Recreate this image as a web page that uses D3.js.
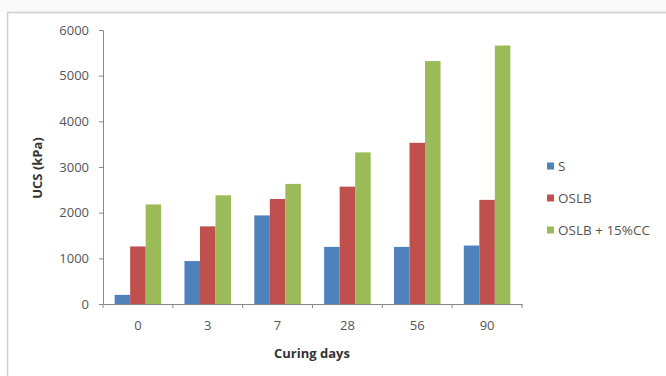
<!DOCTYPE html>
<html>
<head>
<meta charset="utf-8">
<style>
  body, html { margin: 0; padding: 0; background: #fff; }
  svg { display: block; }
  text { font-family: "Open Sans", "Liberation Sans", sans-serif; }
</style>
</head>
<body>
<svg id="svg" width="666" height="376"></svg>
<script src="https://d3js.org/d3.v7.min.js"></script>
<script>
  // chart data
  const days = ['0', '3', '7', '28', '56', '90']
  const seriesNames = ['S', 'OSLB', 'OSLB + 15%CC']
  const sValues = [200, 940, 1940, 1250, 1250, 1280]
  const oslbValues = [1260, 1700, 2300, 2570, 3530, 2280]
  const oslbCcValues = [2180, 2380, 2630, 3320, 5320, 5660]
  const yTicks = [0, 1000, 2000, 3000, 4000, 5000, 6000]
  const colors = ['#4F81BD', '#C0504D', '#9BBB59']

  const allSeries = [sValues, oslbValues, oslbCcValues]

  const svg = d3.select('#svg')

  // faint strip above the frame, then the frame itself
  svg.append('rect').attr('x', 0).attr('y', 0).attr('width', 666).attr('height', 12).attr('fill', '#f9f9f9')
  svg.append('path')
    .attr('d', 'M7.5,376 V12.5 H666')
    .attr('fill', 'none')
    .attr('stroke', '#d0d0d0')
    .attr('stroke-width', 1.5)

  const plotLeft = 103, plotRight = 522, plotTop = 30, plotBottom = 304

  const x = d3.scaleBand().domain(days).range([plotLeft, plotRight])
  const y = d3.scaleLinear().domain([0, 6000]).range([plotBottom, plotTop])

  // bar width like Excel: gap of 150%
  const barW = x.bandwidth() / 4.5
  const gap = barW * 0.75

  allSeries.forEach((vals, si) => {
    svg.append('g')
      .selectAll('rect')
      .data(vals)
      .join('rect')
      .attr('x', (d, i) => x(days[i]) + gap + si * barW)
      .attr('y', d => y(d))
      .attr('width', barW)
      .attr('height', d => plotBottom - y(d))
      .attr('fill', colors[si])
  })

  // y axis
  const yAxis = svg.append('g')
    .attr('transform', `translate(${plotLeft},0)`)
    .call(d3.axisLeft(y).tickValues(yTicks).tickFormat(d3.format('d'))
      .tickSize(4).tickPadding(10).tickSizeOuter(0))
  yAxis.select('.domain').attr('stroke', '#888')
  yAxis.selectAll('.tick line').attr('stroke', '#888')
  yAxis.selectAll('text').attr('font-size', 13).attr('fill', '#555')

  // x axis, ticks between categories
  const xAxis = svg.append('g')
    .attr('transform', `translate(0,${plotBottom})`)
    .call(d3.axisBottom(x).tickSize(0).tickPadding(17).tickSizeOuter(0))
  xAxis.select('.domain').attr('stroke', '#888')
  xAxis.selectAll('text').attr('font-size', 13).attr('fill', '#555')
  xAxis.append('g')
    .selectAll('line')
    .data(days.concat(['end']))
    .join('line')
    .attr('x1', (d, i) => plotLeft + i * x.step())
    .attr('x2', (d, i) => plotLeft + i * x.step())
    .attr('y1', 0)
    .attr('y2', 4)
    .attr('stroke', '#888')

  // axis titles
  svg.append('text')
    .attr('transform', 'translate(42,168) rotate(-90)')
    .attr('text-anchor', 'middle')
    .attr('font-size', 13)
    .attr('font-weight', 'bold')
    .attr('fill', '#333')
    .text('UCS (kPa)')

  svg.append('text')
    .attr('x', 312)
    .attr('y', 358)
    .attr('text-anchor', 'middle')
    .attr('font-size', 13)
    .attr('font-weight', 'bold')
    .attr('fill', '#333')
    .text('Curing days')

  // legend
  const legend = svg.append('g').attr('transform', 'translate(547,166)')
  const items = legend.selectAll('g')
    .data(seriesNames)
    .join('g')
    .attr('transform', (d, i) => `translate(0,${i * 32})`)
  items.append('rect')
    .attr('x', 0).attr('y', -3.5)
    .attr('width', 7).attr('height', 7)
    .attr('fill', (d, i) => colors[i])
  items.append('text')
    .attr('x', 11).attr('y', 4.5)
    .attr('font-size', 13.5)
    .attr('fill', '#555')
    .text(d => d)
</script>
</body>
</html>
